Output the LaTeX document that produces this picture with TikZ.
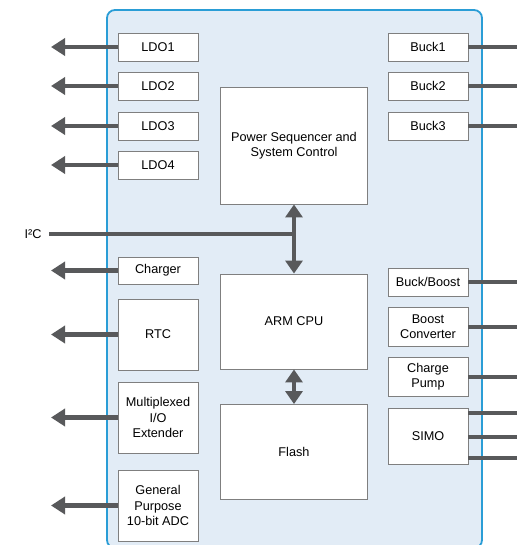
\documentclass[tikz,border=0pt]{standalone}
\usepackage{fontspec}
\setmainfont{Liberation Sans}
\usetikzlibrary{arrows.meta}
\definecolor{chipfill}{HTML}{E2ECF6}
\definecolor{chipline}{HTML}{2A9DD6}
\definecolor{wire}{HTML}{58595B}
\definecolor{boxline}{HTML}{7F7F7F}
\begin{document}
\begin{tikzpicture}[x=1pt,y=-1pt,
  blk/.style={draw=boxline,line width=0.9pt,fill=white,align=center,inner sep=0pt,
    font=\fontsize{12.7}{15.3}\selectfont},
  outarrow/.style={draw=wire,line width=4.5pt,-{Triangle[length=14pt,width=17pt]}},
  biarrow/.style={draw=wire,line width=4.5pt,{Triangle[length=13pt,width=17pt]}-{Triangle[length=13pt,width=17pt]}},
  outwire/.style={draw=wire,line width=4pt},
  lbl/.style={font=\fontsize{12.7}{15.3}\selectfont,inner sep=0pt}]
\useasboundingbox (0,0) rectangle (517,545);
% chip
\draw[chipline,line width=1.8pt,fill=chipfill,rounded corners=8pt] (107,10) rectangle (482,548);
\coordinate (tipL) at (51,0);
\coordinate (edgeR) at (517,0);
% left blocks
\node[blk,minimum width=80pt,minimum height=28pt] (ldo1) at (158,47) {LDO1};
\node[blk,minimum width=80pt,minimum height=28pt] (ldo2) at (158,86) {LDO2};
\node[blk,minimum width=80pt,minimum height=28pt] (ldo3) at (158,126) {LDO3};
\node[blk,minimum width=80pt,minimum height=28pt] (ldo4) at (158,165) {LDO4};
\node[blk,minimum width=80pt,minimum height=27pt] (chg) at (158,270.5) {Charger};
\node[blk,minimum width=80pt,minimum height=71pt] (rtc) at (158,334.5) {RTC};
\node[blk,minimum width=80pt,minimum height=71pt] (mux) at (158,417.5) {Multiplexed\\I/O\\Extender};
\node[blk,minimum width=80pt,minimum height=71pt] (adc) at (158,505.5) {General\\Purpose\\10-bit ADC};
% center blocks
\node[blk,minimum width=147pt,minimum height=117pt] (psc) at (294,145.5) {Power Sequencer and\\System Control};
\node[blk,minimum width=147pt,minimum height=95pt] (cpu) at (294,321.5) {ARM CPU};
\node[blk,minimum width=147pt,minimum height=95pt] (flash) at (294,452) {Flash};
% right blocks
\node[blk,minimum width=80pt,minimum height=28pt] (bk1) at (428,47) {Buck1};
\node[blk,minimum width=80pt,minimum height=28pt] (bk2) at (428,86) {Buck2};
\node[blk,minimum width=80pt,minimum height=28pt] (bk3) at (428,126) {Buck3};
\node[blk,minimum width=80pt,minimum height=28pt] (bb) at (428,282) {Buck/Boost};
\node[blk,minimum width=80pt,minimum height=39pt] (boost) at (428,326.5) {Boost\\Converter};
\node[blk,minimum width=80pt,minimum height=39pt] (cp) at (428,376.5) {Charge\\Pump};
\node[blk,minimum width=80pt,minimum height=56pt] (simo) at (428,436) {SIMO};
% I2C
\node[lbl] (i2c) at (33,234) {I²C};
\coordinate (bus) at (294,234);
\draw[outwire] (49,234) -- (bus);
% arrows left
\foreach \n in {ldo1,ldo2,ldo3,ldo4,chg,rtc,mux,adc}
  \draw[outarrow] (\n.west) -- (\n.west -| tipL);
% bidirectional
\draw[biarrow] (psc.south) -- (cpu.north);
\draw[biarrow] (cpu.south) -- (flash.north);
% right wires
\foreach \n in {bk1,bk2,bk3,bb,boost,cp}
  \draw[outwire] (\n.east) -- (\n.east -| edgeR);
\draw[outwire] ([yshift=-22pt]simo.east) -- ([yshift=-22pt]simo.east -| edgeR);
\draw[outwire] ([yshift=-1pt]simo.east) -- ([yshift=-1pt]simo.east -| edgeR);
\draw[outwire] ([yshift=23pt]simo.east) -- ([yshift=23pt]simo.east -| edgeR);
\end{tikzpicture}
\end{document}
